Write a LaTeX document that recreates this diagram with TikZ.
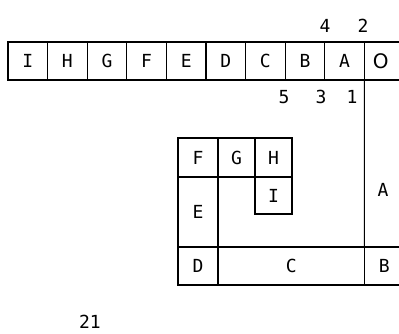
\documentclass[tikz,border=0pt]{standalone}
\usepackage{fontspec}
\setmonofont{DejaVu Sans Mono}
\setsansfont{DejaVu Sans}
\usetikzlibrary{positioning}

\begin{document}
\begin{tikzpicture}[
      x=1pt, y=-1pt,
      font=\ttfamily\fontsize{18}{20}\selectfont,
      cell/.style={draw, line width=1.1pt, minimum width=39.6pt, minimum height=38pt, inner sep=0pt, outer sep=0pt},
      block/.style={draw, line width=1.1pt, inner sep=0pt, outer sep=0pt},
      tag/.style={inner sep=0pt},
      node distance=0pt
    ]
      \useasboundingbox (0,0) rectangle (399,333);

      % queue along the top
      \node[cell] (qI) at (27.8,61) {I};
      \node[cell, right=of qI] (qH) {H};
      \node[cell, right=of qH] (qG) {G};
      \node[cell, right=of qG] (qF) {F};
      \node[cell, right=of qF] (qE) {E};
      \node[cell, right=of qE] (qD) {D};
      \node[cell, right=of qD] (qC) {C};
      \node[cell, right=of qC] (qB) {B};
      \node[cell, right=of qB] (qA) {A};
      \node[cell, right=of qA] (qO) {\hspace*{-7pt}\sffamily\fontsize{20}{22}\selectfont O};

      \node[tag] (n4) at (325,26) {4};
      \node[tag] (n2) at (363,26) {2};
      \node[tag] (n5) at (284,97) {5};
      \node[tag] (n3) at (321,97) {3};
      \node[tag] (n1) at (352,97) {1};

      % packed blocks below
      \node[block, minimum width=40pt, minimum height=39pt] (bF) at (198,157.5) {F};
      \node[block, right=of bF, minimum width=37pt, minimum height=39pt] (bG) {G};
      \node[block, right=of bG, minimum width=37pt, minimum height=39pt] (bH) {H};
      \node[block, below=of bH, minimum width=37pt, minimum height=37pt] (bI) {I};
      \node[block, below=of bF, minimum width=40pt, minimum height=70pt] (bE) {E};
      \node[block, below=of bE, minimum width=40pt, minimum height=38pt] (bD) {D};
      \node[block, right=of bD, minimum width=146.4pt, minimum height=38pt] (bC) {C};
      \node[block, right=of bC, minimum width=40pt, minimum height=38pt] (bB) {B};
      \node[tag] (bA) at (383,190) {A};

      \draw[line width=1.1pt] (qA.south east) -- (bB.north west);

      \node[tag] (n21) at (90,322) {21};
    \end{tikzpicture}
\end{document}
